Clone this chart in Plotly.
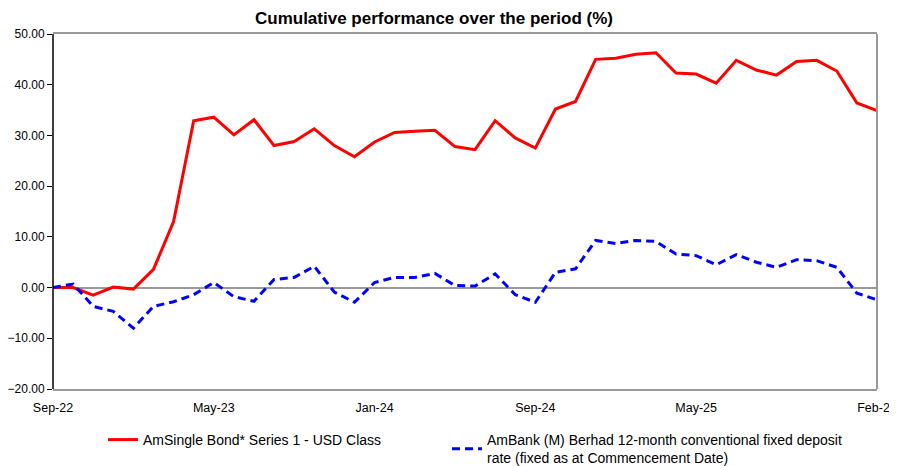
import plotly.graph_objects as go

months = ["Sep-22","Oct-22","Nov-22","Dec-22","Jan-23","Feb-23","Mar-23","Apr-23","May-23","Jun-23",
          "Jul-23","Aug-23","Sep-23","Oct-23","Nov-23","Dec-23","Jan-24","Feb-24","Mar-24","Apr-24",
          "May-24","Jun-24","Jul-24","Aug-24","Sep-24","Oct-24","Nov-24","Dec-24","Jan-25","Feb-25",
          "Mar-25","Apr-25","May-25","Jun-25","Jul-25","Aug-25","Sep-25","Oct-25","Nov-25","Dec-25",
          "Jan-26","Feb-26"]

fund = [0.0, 0.0, -1.5, 0.1, -0.3, 3.6, 13.0, 32.9, 33.6, 30.1,
        33.1, 28.0, 28.8, 31.3, 28.0, 25.8, 28.7, 30.6, 30.8, 31.0,
        27.8, 27.2, 32.9, 29.5, 27.5, 35.2, 36.7, 45.0, 45.2, 46.0,
        46.3, 42.3, 42.1, 40.3, 44.8, 42.9, 41.9, 44.6, 44.8, 42.7,
        36.4, 34.9]

benchmark = [0.0, 0.7, -3.7, -4.7, -8.0, -3.7, -2.8, -1.4, 1.0, -1.8,
             -2.7, 1.6, 2.0, 4.2, -0.9, -2.9, 1.0, 2.0, 2.0, 2.8,
             0.4, 0.3, 2.7, -1.4, -2.9, 3.0, 3.7, 9.3, 8.7, 9.3,
             9.1, 6.6, 6.3, 4.5, 6.5, 5.0, 4.0, 5.5, 5.3, 4.0,
             -1.1, -2.4]

tick_labels = ["Sep-22", "May-23", "Jan-24", "Sep-24", "May-25", "Feb-26"]
y_ticks = [-20, -10, 0, 10, 20, 30, 40, 50]

W, H = 889, 458  # page adds an 8px body margin

fig = go.Figure()
fig.add_trace(go.Scatter(
    x=months, y=fund, mode="lines",
    name="AmSingle Bond* Series 1 - USD Class",
    line=dict(color="#ff0000", width=3), legend="legend",
))
fig.add_trace(go.Scatter(
    x=months, y=benchmark, mode="lines",
    name="AmBank (M) Berhad 12-month conventional fixed deposit<br>rate (fixed as at Commencement Date)",
    line=dict(color="#0000ff", width=3, dash="8px,5px"), legend="legend2",
))

legend_common = dict(orientation="h", xref="container", yref="container",
                     xanchor="left", yanchor="top", font=dict(size=14),
                     bgcolor="rgba(0,0,0,0)")

fig.update_layout(
    width=W, height=H,
    margin=dict(l=45, r=20, t=26, b=77),
    paper_bgcolor="white", plot_bgcolor="white",
    font=dict(family="Liberation Sans, Arial, sans-serif", size=12.5, color="#000000"),
    title=dict(text="<b>Cumulative performance over the period (%)</b>",
               x=426 / W, xanchor="center", xref="container",
               y=1 - 10 / H, yanchor="middle", yref="container",
               font=dict(size=17, color="#000000")),
    showlegend=True,
    legend=dict(x=95 / W, y=1 - 416 / H, **legend_common),
    legend2=dict(x=439 / W, y=1 - 416 / H, **legend_common),
)

fig.update_xaxes(
    type="category", range=[0, len(months) - 1], automargin=False,
    tickmode="array", tickvals=tick_labels, ticktext=tick_labels,
    showgrid=False, ticks="outside", ticklen=6, tickcolor="rgba(0,0,0,0)",
    tickfont=dict(size=12.5),
    showline=True, linecolor="#999999", linewidth=2, mirror=True, zeroline=False,
)
fig.update_yaxes(
    range=[-20, 50], automargin=False, tickmode="array", tickvals=y_ticks, tickformat=".2f",
    showgrid=False, ticks="outside", ticklen=5, tickcolor="#000000", tickwidth=1,
    showline=False, zeroline=True, zerolinecolor="#999999", zerolinewidth=1.5,
    tickfont=dict(size=12),
)
# left axis line in black, right border gray
fig.add_shape(type="line", xref="paper", yref="paper", x0=0, x1=0, y0=0, y1=1,
              line=dict(color="#000000", width=1.5))
fig.add_shape(type="line", xref="paper", yref="paper", x0=1, x1=1, y0=0, y1=1,
              line=dict(color="#999999", width=2))

fig.write_html("out.html")
